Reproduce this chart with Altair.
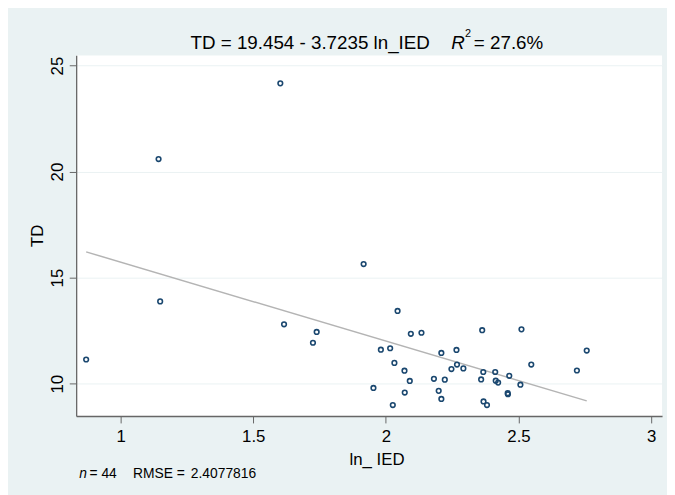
import altair as alt
import pandas as pd

# Data
ln_ied = [0.870, 1.143, 1.149, 1.602, 1.616, 1.725, 1.739, 1.916, 1.953, 1.981,
          2.016, 2.026, 2.032, 2.044, 2.070, 2.071, 2.090, 2.094, 2.134, 2.181,
          2.199, 2.209, 2.209, 2.222, 2.247, 2.266, 2.268, 2.292, 2.359, 2.363,
          2.367, 2.368, 2.381, 2.412, 2.414, 2.423, 2.459, 2.460, 2.465, 2.507,
          2.511, 2.548, 2.720, 2.757]
td = [11.14, 20.59, 13.88, 24.16, 12.80, 11.93, 12.44, 15.64, 9.80, 11.60,
      11.67, 8.99, 10.98, 13.43, 10.61, 9.58, 10.13, 12.35, 12.40, 10.23,
      9.66, 11.45, 9.28, 10.19, 10.69, 11.59, 10.90, 10.72, 10.20, 12.52,
      10.55, 9.16, 8.99, 10.55, 10.14, 10.05, 9.55, 9.50, 10.37, 9.95,
      12.56, 10.90, 10.62, 11.56]

intercept = 19.454
slope = -3.7235
x_ticks = [1, 1.5, 2, 2.5, 3]
y_ticks = [10, 15, 20, 25]

FONT = "Liberation Sans"
BG = "#EAF2F3"
NAVY = "#1A476F"

df = pd.DataFrame({"ln_IED": ln_ied, "TD": td})
fit_df = pd.DataFrame({"ln_IED": [min(ln_ied), max(ln_ied)]})

W, H = 593, 365

x_scale = alt.Scale(domain=[0.8324, 3.041], nice=False, zero=False)
y_scale = alt.Scale(domain=[8.475, 25.48], nice=False, zero=False)

x_axis = alt.Axis(
    title="ln_ IED", values=x_ticks, format=".1~f", grid=False,
    labelFont=FONT, labelFontSize=17, labelColor="black",
    labelBaseline="alphabetic", labelPadding=18.5,
    tickSize=7, tickColor="#666666", tickWidth=1,
    domainColor="#666666", domainWidth=1.3,
    titleFont=FONT, titleFontSize=17, titleFontWeight="normal", titleColor="black",
    titleBaseline="alphabetic", titleX=304, titleY=48.7,
)
y_axis = alt.Axis(
    title="TD", values=y_ticks, grid=True, gridColor=BG, gridWidth=1,
    labelFont=FONT, labelFontSize=17, labelColor="black",
    labelAngle=270, labelAlign="center", labelBaseline="alphabetic", labelPadding=7.3,
    tickSize=7, tickColor="#666666", tickWidth=1,
    domainColor="#666666", domainWidth=1.3,
    titleFont=FONT, titleFontSize=17, titleFontWeight="normal", titleColor="black",
    titleAngle=270, titleAlign="center", titleBaseline="alphabetic",
    titleX=-33.7, titleY=182,
)

points = alt.Chart(df).mark_point(
    shape="circle", filled=False, size=22, strokeWidth=1.6, color=NAVY, opacity=1
).encode(
    x=alt.X("ln_IED:Q", scale=x_scale, axis=x_axis),
    y=alt.Y("TD:Q", scale=y_scale, axis=y_axis),
)

fit = alt.Chart(fit_df).transform_calculate(
    fitted=f"{intercept} + ({slope}) * datum.ln_IED"
).mark_line(color="#B4B4B4", strokeWidth=1.5).encode(
    x=alt.X("ln_IED:Q", scale=x_scale),
    y=alt.Y("fitted:Q", scale=y_scale),
)

one = pd.DataFrame({"k": [0]})


def label(text, x, y, size, italic=False, align="left"):
    return alt.Chart(one).mark_text(
        text=text, font=FONT, fontSize=size, color="black",
        fontStyle="italic" if italic else "normal",
        align=align, baseline="alphabetic",
    ).encode(x=alt.value(x), y=alt.value(y))


texts = [
    label("TD = 19.454 - 3.7235 ln_IED", 115.7, -6.3, 19),
    label("R", 379.7, -6.3, 19, italic=True),
    label("2", 393.5, -19, 11),
    label("= 27.6%", 402.5, -6.3, 19),
    label("n", 3, 427.7, 14, italic=True),
    label("= 44", 13.5, 427.7, 14),
    label("RMSE =", 57.5, 427.7, 14),
    label("2.4077816", 116, 427.7, 14),
]

chart = alt.layer(fit, points, *texts).properties(
    width=W, height=H,
    background=BG,
    autosize=alt.AutoSizeParams(type="none"),
    padding={"left": 69, "top": 45, "right": 5, "bottom": 77},
).configure_view(fill="white", strokeWidth=0)

chart.save("out.html", embed_options={"renderer": "svg", "actions": False})
